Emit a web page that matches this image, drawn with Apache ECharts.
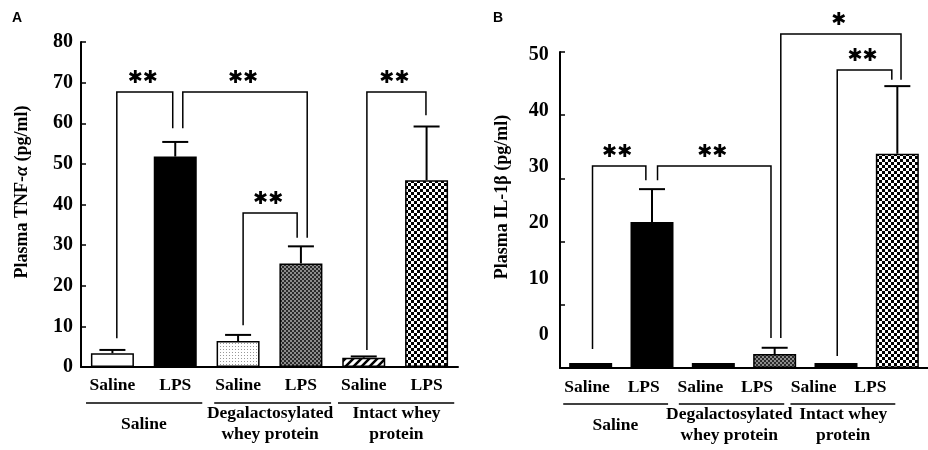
<!DOCTYPE html>
<html>
<head>
<meta charset="utf-8">
<script src="https://cdn.jsdelivr.net/npm/echarts@6/dist/echarts.min.js"></script>
<style>
  html, body { margin: 0; background: #fff; }
  #main { width: 928px; height: 450px; }
</style>
</head>
<body>
<div id="main"></div>
<script>
// categories
var treatments = ['Saline', 'LPS', 'Saline', 'LPS', 'Saline', 'LPS'];
var groupNames = ['Saline', 'Degalactosylated\nwhey protein', 'Intact whey\nprotein'];
// underline spans and label centres, in category-index units
var groupSpans = [[-0.42, 1.43], [1.62, 3.48], [3.59, 5.44]];
var groupCenters = [0.5, 2.51, 4.52];

// panel A: plasma TNF-alpha (pg/ml)
var tnfMean = [3.4, 51.8, 6.4, 25.5, 2.3, 46.0];
var tnfErr = [0.8, 3.6, 1.5, 4.2, 0.3, 13.2];
var tnfTicks = [0, 10, 20, 30, 40, 50, 60, 70, 80];
// [fromX, toX, bracketY, leftLegEnd, rightLegEnd]
var tnfBrackets = [
  [0.07, 0.96, 67.7, 7.1, 58.8],
  [1.12, 3.10, 67.7, 58.8, 31.8],
  [2.08, 2.94, 37.9, 10.3, 31.8],
  [4.05, 4.99, 67.7, 4.2, 62.0]
];
var tnfStars = ['**', '**', '**', '**'];

// panel B: plasma IL-1beta (pg/ml)
var ilMean = [0.8, 23.1, 0.8, 2.2, 0.8, 33.9];
var ilErr = [0, 5.2, 0, 1.0, 0, 10.7];
var ilTicks = [0, 10, 20, 30, 40, 50];
var ilBrackets = [
  [0.03, 0.90, 31.96, 3.0, 29.7],
  [1.09, 2.94, 31.96, 29.7, 4.75],
  [4.02, 4.91, 47.15, 1.9, 45.6],
  [3.10, 5.06, 52.85, 4.75, 45.6]
];
var ilStars = ['**', '**', '**', '*'];

// bar fills (style, same order as treatments)
var tnfFills = ['white', 'black', 'dots', 'fine', 'hatch', 'checker'];
var ilFills = ['black', 'black', 'black', 'fine', 'black', 'checker'];

var serif = '"Liberation Serif", "Times New Roman", serif';

function pattern(kind) {
  if (kind === 'white') return '#fff';
  if (kind === 'black') return '#000';
  var c = document.createElement('canvas');
  var ctx = c.getContext('2d');
  if (kind === 'dots') {
    c.width = c.height = 3;
    ctx.fillStyle = '#fff'; ctx.fillRect(0, 0, 3, 3);
    ctx.fillStyle = '#999'; ctx.fillRect(1, 1, 1, 1);
  } else if (kind === 'fine') {
    c.width = c.height = 4;
    ctx.fillStyle = '#8c8c8c'; ctx.fillRect(0, 0, 4, 4);
    ctx.fillStyle = '#2a2a2a'; ctx.fillRect(0, 0, 2, 2); ctx.fillRect(2, 2, 2, 2);
  } else if (kind === 'hatch') {
    c.width = c.height = 8;
    ctx.fillStyle = '#fff'; ctx.fillRect(0, 0, 8, 8);
    ctx.strokeStyle = '#000'; ctx.lineWidth = 2.5;
    ctx.beginPath();
    ctx.moveTo(-2, 10); ctx.lineTo(10, -2);
    ctx.moveTo(-2, 2); ctx.lineTo(2, -2);
    ctx.moveTo(6, 10); ctx.lineTo(10, 6);
    ctx.stroke();
  } else if (kind === 'checker') {
    c.width = c.height = 6;
    ctx.fillStyle = '#000'; ctx.fillRect(0, 0, 6, 6);
    ctx.fillStyle = '#fff'; ctx.fillRect(0, 0, 3, 3); ctx.fillRect(3, 3, 3, 3);
  }
  return { image: c, repeat: 'repeat' };
}

function barSeries(xi, yi, mean, fills) {
  return {
    type: 'bar', xAxisIndex: xi, yAxisIndex: yi, barWidth: 43,
    itemStyle: { borderColor: '#000', borderWidth: 1.5 },
    data: mean.map(function (v, i) {
      return { value: v, itemStyle: { color: pattern(fills[i]) } };
    })
  };
}

function errorSeries(xi, yi, mean, err) {
  return {
    type: 'custom', xAxisIndex: xi, yAxisIndex: yi, silent: true,
    encode: { x: 0, y: 1 },
    data: mean.map(function (v, i) { return [i, v, err[i]]; }),
    renderItem: function (params, api) {
      var e = api.value(2);
      if (!e) return { type: 'group', children: [] };
      var p0 = api.coord([api.value(0), api.value(1)]);
      var p1 = api.coord([api.value(0), api.value(1) + e]);
      var st = { stroke: '#000', lineWidth: 2 };
      return {
        type: 'group', children: [
          { type: 'line', shape: { x1: p0[0], y1: p0[1], x2: p1[0], y2: p1[1] }, style: st },
          { type: 'line', shape: { x1: p1[0] - 13, y1: p1[1], x2: p1[0] + 13, y2: p1[1] }, style: st }
        ]
      };
    }
  };
}

function bracketSeries(xi, yi, brackets, stars) {
  return {
    type: 'custom', xAxisIndex: xi, yAxisIndex: yi, silent: true, clip: false,
    encode: { x: [0, 1], y: [2, 3, 4] },
    data: brackets,
    renderItem: function (params, api) {
      var b = brackets[params.dataIndex];
      var a = api.coord([b[0], b[3]]);
      var t1 = api.coord([b[0], b[2]]);
      var t2 = api.coord([b[1], b[2]]);
      var d = api.coord([b[1], b[4]]);
      return {
        type: 'group', children: [
          { type: 'polyline', shape: { points: [a, t1, t2, d] },
            style: { stroke: '#000', lineWidth: 1.5, fill: null } },
          { type: 'text', x: (t1[0] + t2[0]) / 2 - 2, y: t1[1] - 14,
            style: { text: stars[params.dataIndex].replace(/\*/g, '\u2731'),
              font: 'bold 18px "DejaVu Sans"', fill: '#000', align: 'center', verticalAlign: 'middle' } }
        ]
      };
    }
  };
}

function groupSeries(xi, yi) {
  return {
    type: 'custom', xAxisIndex: xi, yAxisIndex: yi, silent: true, clip: false,
    encode: { x: [0, 1, 2] },
    data: groupSpans.map(function (s, i) { return [s[0], s[1], groupCenters[i]]; }),
    renderItem: function (params, api) {
      var bottom = params.coordSys.y + params.coordSys.height;
      var x1 = api.coord([api.value(0), 0])[0];
      var x2 = api.coord([api.value(1), 0])[0];
      var xc = api.coord([api.value(2), 0])[0];
      return {
        type: 'group', children: [
          { type: 'line', shape: { x1: x1, y1: bottom + 36, x2: x2, y2: bottom + 36 },
            style: { stroke: '#000', lineWidth: 1.5 } },
          { type: 'text', x: xc, y: bottom + 57,
            style: { text: groupNames[params.dataIndex], font: 'bold 17.5px ' + serif,
              lineHeight: 21, fill: '#000', align: 'center', verticalAlign: 'middle' } }
        ]
      };
    }
  };
}

var axisLine = { show: true, onZero: false, lineStyle: { color: '#000', width: 2 } };
var noLine = { show: false, onZero: false };
var tickLabel = { color: '#000', fontFamily: serif, fontWeight: 'bold', fontSize: 20 };
var catLabel = { color: '#000', fontFamily: serif, fontWeight: 'bold', fontSize: 17.5, interval: 0 };
var inTick = { show: true, inside: true, length: 5, lineStyle: { color: '#000', width: 1.5 } };

var chart = echarts.init(document.getElementById('main'), null, { renderer: 'canvas' });

chart.setOption({
  animation: false,
  backgroundColor: '#fff',
  grid: [
    { left: 81, top: 42, width: 377, height: 325 },
    { left: 560, top: 52, width: 377, height: 316 },
    { left: 558.7, top: 52, width: 340, height: 316 }
  ],
  xAxis: [
    { gridIndex: 0, type: 'category', data: treatments, axisLine: axisLine,
      axisTick: { show: false }, axisLabel: Object.assign({ margin: 9 }, catLabel) },
    { gridIndex: 0, type: 'value', min: -0.5, max: 5.5, show: false, axisLine: noLine },
    { gridIndex: 1, type: 'category', data: treatments, axisLine: axisLine,
      axisTick: { show: false }, axisLabel: { show: false } },
    { gridIndex: 1, type: 'value', min: -0.5, max: 5.5, show: false, axisLine: noLine },
    { gridIndex: 2, type: 'category', data: treatments, axisLine: noLine,
      axisTick: { show: false }, axisLabel: Object.assign({ margin: 10 }, catLabel) },
    { gridIndex: 2, type: 'value', min: -0.5, max: 5.5, show: false, axisLine: noLine }
  ],
  yAxis: [
    { gridIndex: 0, type: 'value', min: tnfTicks[0], max: tnfTicks[tnfTicks.length - 1],
      interval: tnfTicks[1] - tnfTicks[0], axisLine: axisLine, axisTick: inTick,
      axisLabel: Object.assign({ margin: 8 }, tickLabel), splitLine: { show: false } },
    { gridIndex: 1, type: 'value', min: ilTicks[0], max: ilTicks[ilTicks.length - 1],
      interval: ilTicks[1] - ilTicks[0], axisLine: axisLine, axisTick: inTick,
      axisLabel: { show: false }, splitLine: { show: false } },
    // label layer of panel B (its tick text is set tighter than the ticks)
    { gridIndex: 2, type: 'value', min: -5.89, max: 50.54,
      axisLine: noLine, axisTick: { show: false }, splitLine: { show: false },
      axisLabel: Object.assign({
        margin: 10, showMinLabel: false, showMaxLabel: false,
        formatter: function (v) {
          var r = Math.round(v);
          return ilTicks.indexOf(r) >= 0 && Math.abs(v - r) < 1e-6 ? String(r) : '';
        }
      }, tickLabel) }
  ],
  graphic: [
    { type: 'text', left: 12, top: 11, style: { text: 'A', font: 'bold 14px "Liberation Sans"', fill: '#000' } },
    { type: 'text', left: 493, top: 11, style: { text: 'B', font: 'bold 14px "Liberation Sans"', fill: '#000' } },
    { type: 'text', x: 22, y: 192, rotation: Math.PI / 2,
      style: { text: '{b|Plasma TNF-}{i|\u03b1}{b| (pg/ml)}', align: 'center', verticalAlign: 'middle', fill: '#000',
        rich: {
          b: { fontFamily: serif, fontWeight: 'bold', fontSize: 18 },
          i: { fontFamily: serif, fontWeight: 'bold', fontStyle: 'italic', fontSize: 18 }
        } } },
    { type: 'text', x: 502, y: 197, rotation: Math.PI / 2,
      style: { text: 'Plasma IL-1\u03b2 (pg/ml)', align: 'center', verticalAlign: 'middle', fill: '#000',
        font: 'bold 18px ' + serif } }
  ],
  series: [
    barSeries(0, 0, tnfMean, tnfFills),
    errorSeries(0, 0, tnfMean, tnfErr),
    bracketSeries(1, 0, tnfBrackets, tnfStars),
    groupSeries(1, 0),
    barSeries(2, 1, ilMean, ilFills),
    errorSeries(2, 1, ilMean, ilErr),
    bracketSeries(3, 1, ilBrackets, ilStars),
    groupSeries(5, 2)
  ]
});
</script>
</body>
</html>
